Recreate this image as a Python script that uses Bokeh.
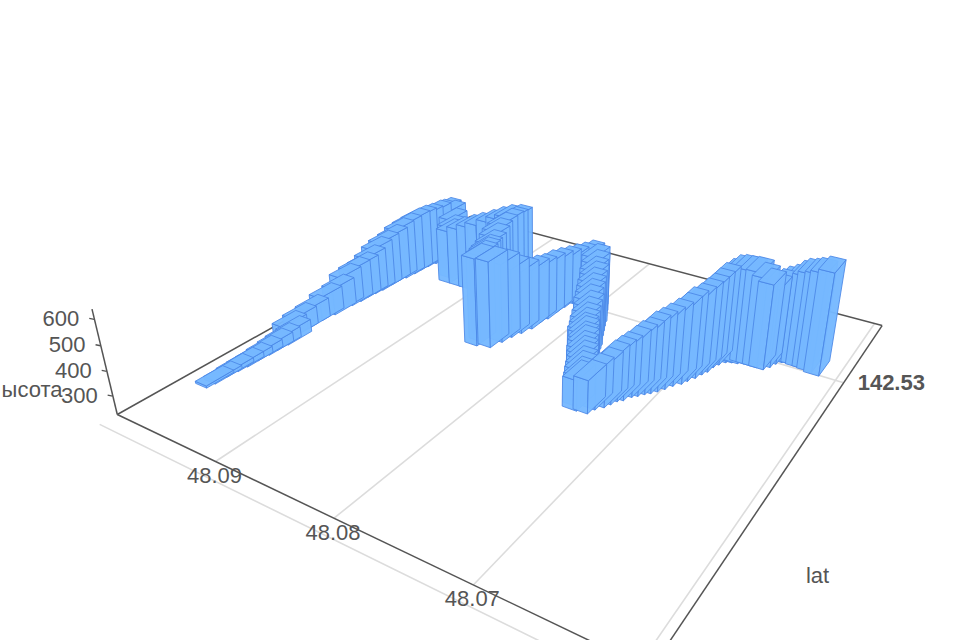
import numpy as np
from bokeh.plotting import figure
from bokeh.embed import file_html
from bokeh.resources import INLINE
from bokeh.core.properties import value

# Track samples: lat = 48.05 + v*1e-4, lon = 142.50 + v*1e-4, altitude in metres
LAT_E4 = [471,470,470,469,468,468,467,467,466,472,471,471,471,469,470,468,467,467,466,465,465,465,463,462,462,461,459,460,459,451,440,431,426,415,405,397,388,379,372,364,363,361,360,358,356,354,352,349,346,345,335,332,330,327,324,324,322,322,321,319,318,318,294,289,285,281,278,275,272,270,266,264,262,260,258,256,253,251,249,247,245,243,241,239,237,229,227,223,221,219,216,213,210,207,204,201,198,195,191,189,186,184,182,181,179,176,172,168,164,159,154,149,146,144,141,136,131,127,122,118,112]
LON_E4 = [59,65,75,83,90,99,108,115,124,126,135,147,161,172,181,189,197,205,212,219,229,237,244,253,261,268,276,282,289,285,274,262,255,255,255,256,259,260,262,263,256,248,239,230,224,217,210,204,197,191,194,204,213,221,230,240,248,259,269,277,287,299,268,260,252,246,239,233,227,222,216,211,206,202,197,195,190,187,183,180,177,173,169,165,161,162,168,173,178,183,186,192,195,199,202,206,211,217,222,227,233,239,244,251,256,261,263,264,266,266,266,266,271,277,281,282,282,281,281,280,278]
ALT = [229,233,237,242,246,251,260,265,274,283,297,303,322,337,365,380,385,400,425,440,446,461,472,478,475,471,473,464,460,464,461,463,465,488,510,527,545,567,580,588,594,605,607,604,597,585,582,588,593,595,589,558,518,493,482,466,467,452,439,432,419,402,486,484,478,476,470,464,458,449,443,433,424,415,410,404,399,395,385,376,368,359,354,345,345,357,370,387,404,412,425,438,454,463,483,492,501,510,527,540,545,554,564,570,583,592,608,612,608,611,594,577,549,555,560,572,595,611,618,629,647]

LAT_TICKS = [48.09, 48.08, 48.07, 48.06]
LAT_LABELS = ["48.09", "48.08", "48.07", ""]
LON_TICKS = [142.4988, 142.5268]
LON_LABELS = ["", "142.53"]
ALT_TICKS = [300, 400, 500, 600]
LAT_RANGE = (48.0996, 48.0594)
LON_RANGE = (142.50, 142.5355)
ALT_RANGE = (220, 635)
NAME_LAT, NAME_ALT = "lat", "ысота"

# camera
H = np.array([[280.6943060663904, 598.4771171842265, 215.0],
              [54.08766702360447, -106.02816704688303, 461.0],
              [-0.22426556171143908, 0.47904930397132084, 1.0]])
VP = (536.0, 2161.0)
WZ = -0.000146941
HALF_LAT, HALF_LON = 0.00057, 0.0011
BLUE, EDGE, DARK, GRID, TXT = "#76b8ff", "#4a86e6", "#555555", "#dcdcdc", "#555555"


def proj(lat, lon, z):
    s = (48.09 - lat) / 0.03
    t = (lon - 142.50) / 0.035
    X, Y, W = H @ np.array([s, t, 1.0])
    d = (z - ALT_RANGE[0]) * WZ
    return (X + d * VP[0]) / (W + d), (Y + d * VP[1]) / (W + d), W + d


p = figure(width=960, height=640, x_range=(0, 960), y_range=(640, 0),
           output_backend="svg", toolbar_location=None, min_border=0,
           outline_line_color=None)
p.axis.visible = False
p.grid.visible = False
p.background_fill_color = "white"


def seg(a, b, color, width):
    x0, y0, _ = proj(*a)
    x1, y1, _ = proj(*b)
    p.line([x0, x1], [y0, y1], line_color=color, line_width=width)


z0 = ALT_RANGE[0]
la0, la1 = LAT_RANGE
lo0, lo1 = LON_RANGE
for la in LAT_TICKS:
    seg((la, lo0, z0), (la, lo1, z0), GRID, 1.6)
for lo in LON_TICKS:
    seg((la0, lo, z0), (la1, lo, z0), GRID, 1.6)
seg((la0, lo0, z0), (la1, lo0, z0), DARK, 1.5)
seg((la0, lo1, z0), (la1, lo1, z0), DARK, 1.5)
seg((la0, lo0, z0), (la0, lo1, z0), DARK, 1.5)
seg((la1, lo0, z0), (la1, lo1, z0), DARK, 1.5)
seg((la0, lo0, ALT_RANGE[0]), (la0, lo0, ALT_RANGE[1]), DARK, 1.5)

# boxes, far to near
boxes = []
for a, b, z in zip(LAT_E4, LON_E4, ALT):
    la, lo = 48.05 + a * 1e-4, 142.50 + b * 1e-4
    boxes.append((proj(la, lo, z0)[2], la, lo, z))
boxes.sort(key=lambda r: -r[0])
xs, ys = [], []
for _, la, lo, z in boxes:
    n, f = la + 2 * HALF_LAT, la   # the sampled point sits on the box's front face
    l, r = lo - HALF_LON, lo + HALF_LON
    faces = [
        [(n, l, z0), (f, l, z0), (f, l, z), (n, l, z)],
        [(f, l, z0), (f, r, z0), (f, r, z), (f, l, z)],
        [(n, l, z), (f, l, z), (f, r, z), (n, r, z)],
    ]
    for face in faces:
        pts = [proj(*q) for q in face]
        xs.append([q[0] for q in pts])
        ys.append([q[1] for q in pts])
p.patches(xs, ys, fill_color=BLUE, fill_alpha=0.96, line_color=EDGE, line_width=1.0, line_alpha=0.85)

FONT = value("Liberation Sans")


def label(x, y, text, align="center", style="normal"):
    p.text([x], [y], text=[text], text_font=FONT, text_font_size="22px", text_color=TXT,
           text_align=align, text_baseline="middle", text_font_style=style)


# axis ticks and labels
for z in ALT_TICKS:
    x, y, _ = proj(la0, lo0, z)
    p.line([x - 5, x], [y, y + 1], line_color=DARK, line_width=1.3)
    label(x - 15, y, str(z), "right")
for la, txt in zip(LAT_TICKS, LAT_LABELS):
    if txt:
        x, y, _ = proj(la, lo0, z0)
        label(x - 1, y + 14, txt)
for lo, txt in zip(LON_TICKS, LON_LABELS):
    if txt:
        x, y, _ = proj(la1, lo, z0)
        label(x + 14, y, txt, "left", "bold")
label(817, 575, NAME_LAT)
label(62, 389, NAME_ALT, "right")

open("out.html", "w").write(file_html(p, INLINE))
